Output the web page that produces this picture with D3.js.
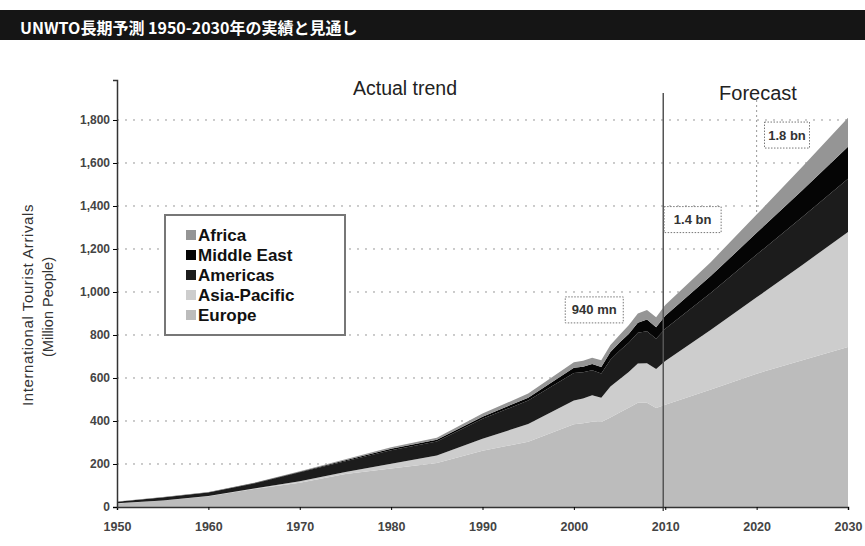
<!DOCTYPE html>
<html>
<head>
<meta charset="utf-8">
<script src="https://cdn.jsdelivr.net/npm/d3@7"></script>
<style>
  body { margin: 0; background: #fff; }
  text { font-family: "Liberation Sans", Arial, sans-serif; }
</style>
</head>
<body>
<div id="chart"></div>
<script>
var svgWidth = 865;
var svgHeight = 546;

// Arrivals in million, by region (stacked from bottom: Europe .. Africa)
var years = [1950, 1955, 1960, 1965, 1970, 1975, 1980, 1985, 1990, 1995, 2000, 2001, 2002, 2003, 2004, 2005, 2006, 2007, 2008, 2009, 2010, 2015, 2020, 2025, 2030];
var europe = [16.8, 30.1, 50.4, 83.7, 113.0, 153.0, 178.5, 205.0, 261.5, 304.0, 385.0, 390.0, 396.0, 395.0, 416.0, 440.0, 462.0, 485.0, 485.0, 461.0, 475.0, 547.0, 620.0, 683.0, 744.0];
var asiaPacific = [0.2, 0.6, 0.9, 2.6, 6.2, 10.0, 23.0, 34.0, 55.8, 82.0, 110.0, 115.0, 124.0, 113.0, 144.0, 154.0, 166.0, 182.0, 184.0, 181.0, 204.0, 277.0, 355.0, 443.0, 535.0];
var americas = [7.5, 14.0, 16.7, 23.2, 42.3, 50.0, 62.3, 66.0, 92.8, 109.0, 128.0, 122.0, 116.0, 113.0, 125.0, 133.0, 136.0, 143.0, 148.0, 141.0, 150.0, 172.0, 199.0, 223.0, 248.0];
var middleEast = [0.2, 0.5, 0.6, 1.6, 1.9, 4.3, 7.1, 7.6, 9.6, 13.7, 24.1, 25.0, 29.0, 30.0, 36.0, 38.0, 41.0, 47.0, 55.0, 53.0, 60.0, 79.0, 101.0, 124.0, 149.0];
var africa = [0.5, 0.8, 0.8, 1.8, 2.4, 4.7, 7.2, 9.7, 14.8, 18.9, 26.2, 28.3, 29.0, 31.0, 33.0, 35.0, 40.0, 43.0, 44.0, 46.0, 50.0, 65.0, 85.0, 109.0, 134.0];

var regions = ["Europe", "Asia-Pacific", "Americas", "Middle East", "Africa"];
var legendOrder = ["Africa", "Middle East", "Americas", "Asia-Pacific", "Europe"];
var colors = {"Europe": "#bcbcbc", "Asia-Pacific": "#cdcdcd", "Americas": "#1c1c1c", "Middle East": "#050505", "Africa": "#959595"};

var xTicks = [1950, 1960, 1970, 1980, 1990, 2000, 2010, 2020, 2030];
var yTicks = [0, 200, 400, 600, 800, 1000, 1200, 1400, 1600, 1800];
var yTickLabels = ["0", "200", "400", "600", "800", "1,000", "1,200", "1,400", "1,600", "1,800"];

var callouts = [
  {year: 2010, value: 940, text: "940 mn"},
  {year: 2020, value: 1360, text: "1.4 bn"},
  {year: 2030, value: 1809, text: "1.8 bn"}
];

var table = years.map(function(y, i) {
  return {year: y, "Europe": europe[i], "Asia-Pacific": asiaPacific[i], "Americas": americas[i], "Middle East": middleEast[i], "Africa": africa[i]};
});

var svg = d3.select("#chart")
  .append("svg")
  .attr("width", svgWidth)
  .attr("height", svgHeight);

// Title bar
svg.append("rect")
  .attr("x", 0).attr("y", 10)
  .attr("width", svgWidth).attr("height", 30)
  .attr("fill", "#151515");

svg.append("text")
  .attr("x", 20).attr("y", 34)
  .attr("fill", "#fff")
  .attr("font-size", "16px")
  .attr("font-weight", "bold")
  .style("font-family", "'Noto Sans CJK JP', sans-serif")
  .text("UNWTO長期予測 1950-2030年の実績と見通し");

var xScale = d3.scaleLinear()
  .domain([1950, 2030])
  .range([117, 848]);

var yScale = d3.scaleLinear()
  .domain([0, 1986])
  .range([507, 80]);

// Dotted gridlines
svg.append("g")
  .selectAll("line")
  .data(yTicks.slice(1))
  .enter()
  .append("line")
  .attr("x1", xScale(1950))
  .attr("x2", xScale(2030))
  .attr("y1", d => yScale(d))
  .attr("y2", d => yScale(d))
  .attr("stroke", "#999")
  .attr("stroke-width", 1)
  .attr("stroke-dasharray", "2,6");

svg.append("line")
  .attr("x1", xScale(2020)).attr("x2", xScale(2020))
  .attr("y1", 100).attr("y2", yScale(0))
  .attr("stroke", "#999")
  .attr("stroke-dasharray", "2,3");

// Stacked areas
var stack = d3.stack().keys(regions);
var series = stack(table);

var area = d3.area()
  .x(d => xScale(d.data.year))
  .y0(d => yScale(d[0]))
  .y1(d => yScale(d[1]));

svg.append("g")
  .selectAll("path")
  .data(series)
  .enter()
  .append("path")
  .attr("d", area)
  .attr("fill", d => colors[d.key]);

// Actual / forecast divider
svg.append("line")
  .attr("x1", xScale(2010) - 2).attr("x2", xScale(2010) - 2)
  .attr("y1", 93).attr("y2", yScale(0) + 4)
  .attr("stroke", "#555")
  .attr("stroke-width", 1.5);

// Axes
var bottomAxis = d3.axisBottom(xScale)
  .tickValues(xTicks)
  .tickSize(3)
  .tickFormat(d3.format("d"));

var leftAxis = d3.axisLeft(yScale)
  .tickValues(yTicks)
  .tickSize(4)
  .tickFormat((d, i) => yTickLabels[i]);

var xAxisG = svg.append("g")
  .attr("transform", `translate(0, ${yScale(0)})`)
  .call(bottomAxis);
xAxisG.select(".domain").attr("stroke", "#333").attr("stroke-width", 1.5);
xAxisG.selectAll("text")
  .attr("font-size", "12.5px")
  .attr("font-weight", "bold")
  .attr("fill", "#444")
  .attr("y", 15);

var yAxisG = svg.append("g")
  .attr("transform", `translate(${xScale(1950)}, 0)`)
  .call(leftAxis);
yAxisG.select(".domain").attr("stroke", "#333").attr("stroke-width", 1.5);
yAxisG.selectAll("text")
  .attr("font-size", "12px")
  .attr("font-weight", "bold")
  .attr("fill", "#444");

// Axis title
svg.append("text")
  .attr("transform", "translate(33, 305) rotate(-90)")
  .attr("text-anchor", "middle")
  .attr("font-size", "15px")
  .attr("letter-spacing", "0.6px")
  .attr("fill", "#333")
  .text("International Tourist Arrivals");

svg.append("text")
  .attr("transform", "translate(53, 307) rotate(-90)")
  .attr("text-anchor", "middle")
  .attr("font-size", "14.5px")
  .attr("fill", "#333")
  .text("(Million People)");

// Section labels
svg.append("text")
  .attr("x", 405).attr("y", 95)
  .attr("text-anchor", "middle")
  .attr("font-size", "19.5px")
  .attr("fill", "#222")
  .text("Actual trend");

svg.append("text")
  .attr("x", 758).attr("y", 100)
  .attr("text-anchor", "middle")
  .attr("font-size", "20px")
  .attr("fill", "#222")
  .text("Forecast");

// Callout boxes
var boxLayout = [{dx: -71, dy: 5, w: 58}, {dx: -64, dy: 5, w: 57}, {dx: -61, dy: 17, w: 45}];
var calloutG = svg.append("g")
  .selectAll("g")
  .data(callouts)
  .enter()
  .append("g")
  .attr("transform", (d, i) => `translate(${xScale(d.year) + boxLayout[i].dx}, ${yScale(d.value) + boxLayout[i].dy})`);

calloutG.append("rect")
  .attr("x", (d, i) => -boxLayout[i].w / 2).attr("y", -13)
  .attr("width", (d, i) => boxLayout[i].w).attr("height", 26)
  .attr("fill", "#fff")
  .attr("stroke", "#777")
  .attr("stroke-dasharray", "1.5,1.5");

calloutG.append("text")
  .attr("text-anchor", "middle")
  .attr("dy", "0.35em")
  .attr("font-size", "13px")
  .attr("font-weight", "bold")
  .attr("fill", "#333")
  .text(d => d.text);

// Legend
var legend = svg.append("g").attr("transform", "translate(165, 215)");
legend.append("rect")
  .attr("width", 180).attr("height", 120)
  .attr("fill", "#fff")
  .attr("stroke", "#777")
  .attr("stroke-width", 2);

var legendItem = legend.selectAll("g.item")
  .data(legendOrder)
  .enter()
  .append("g")
  .attr("class", "item")
  .attr("transform", (d, i) => `translate(21, ${20 + i * 20})`);

legendItem.append("rect")
  .attr("x", 0).attr("y", -5)
  .attr("width", 10).attr("height", 10)
  .attr("fill", d => colors[d]);

legendItem.append("text")
  .attr("x", 12)
  .attr("dy", "0.36em")
  .attr("font-size", "17px")
  .attr("font-weight", "bold")
  .attr("fill", "#111")
  .text(d => d);
</script>
</body>
</html>
